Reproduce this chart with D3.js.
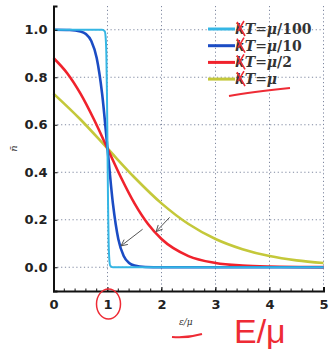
<!DOCTYPE html>
<html>
<head>
<meta charset="utf-8">
<script src="https://cdn.jsdelivr.net/npm/d3@7"></script>
<style>
  body { margin: 0; background: #fff; }
  svg { display: block; }
</style>
</head>
<body>
<div id="chart"></div>
<script>
// Occupation curves (x = eps/mu, y = n-bar)
const xHundred = [0, 0.9, 0.95, 0.97, 0.98, 0.99, 1.0, 1.01, 1.02, 1.03, 1.05, 1.1, 5];
const nHundred = [1, 1, 0.993, 0.953, 0.881, 0.731, 0.5, 0.269, 0.119, 0.047, 0.007, 0, 0];

const xTenth = [0, 0.3, 0.5, 0.6, 0.7, 0.8, 0.9, 1.0, 1.1, 1.2, 1.3, 1.4, 1.5, 1.7, 2, 5];
const nTenth = [1, 0.999, 0.993, 0.982, 0.953, 0.881, 0.731, 0.5, 0.269, 0.119, 0.047, 0.018, 0.007, 0.001, 0, 0];

const xHalf = [0, 0.25, 0.5, 0.75, 1, 1.25, 1.5, 1.75, 2, 2.5, 3, 3.5, 4, 5];
const nHalf = [0.881, 0.818, 0.731, 0.622, 0.5, 0.378, 0.269, 0.182, 0.119, 0.047, 0.018, 0.007, 0.003, 0.0005];

const xOne = [0, 0.5, 1, 1.5, 2, 2.5, 3, 3.5, 4, 4.5, 5];
const nOne = [0.731, 0.622, 0.5, 0.378, 0.269, 0.182, 0.119, 0.076, 0.047, 0.029, 0.018];

const seriesNames = ["\u03bc/100", "\u03bc/10", "\u03bc/2", "\u03bc"];
const seriesColors = ["#35b6e4", "#1b4cc4", "#f0222c", "#c4c83a"];
const xTicks = [0, 1, 2, 3, 4, 5];
const yTicks = [0.0, 0.2, 0.4, 0.6, 0.8, 1.0];

const W = 329, H = 352;

const svg = d3.select("#chart").append("svg")
    .attr("width", W)
    .attr("height", H);

// scales
const x = d3.scaleLinear().domain([0, 5]).range([53.5, 323.5]);
const y = d3.scaleLinear().domain([-0.1, 1.1]).range([291, 6]);

// --- grid (dotted) ---
const grid = svg.append("g").attr("stroke", "#7f88a0").attr("stroke-width", 1)
    .attr("stroke-dasharray", "1.2,2.6");
grid.selectAll(".gx").data(xTicks.slice(1)).join("line")
    .attr("x1", d => x(d)).attr("x2", d => x(d))
    .attr("y1", y(1.1)).attr("y2", y(-0.1));
grid.selectAll(".gy").data(yTicks).join("line")
    .attr("x1", x(0)).attr("x2", x(5))
    .attr("y1", d => y(d)).attr("y2", d => y(d));

// --- curves ---
const series = [
    xHundred.map((v, i) => [v, nHundred[i]]),
    xTenth.map((v, i) => [v, nTenth[i]]),
    xHalf.map((v, i) => [v, nHalf[i]]),
    xOne.map((v, i) => [v, nOne[i]])
];
const line = d3.line()
    .x(d => x(d[0]))
    .y(d => y(d[1]))
    .curve(d3.curveMonotoneX);

// draw the wide ones first so the step stays on top like the figure
[3, 2, 1, 0].forEach(i => {
    svg.append("path")
        .attr("d", line(series[i]))
        .attr("fill", "none")
        .attr("stroke", seriesColors[i])
        .attr("stroke-width", i === 0 ? 2 : 2.6)
        .attr("stroke-linejoin", "round");
});

// --- axes ---
const ax = svg.append("g").attr("transform", `translate(0,${y(-0.1)})`);
ax.call(d3.axisBottom(x).tickValues(xTicks).tickSize(-4).tickPadding(9).tickFormat(d3.format("d")));
ax.select(".domain").attr("stroke", "#111").attr("stroke-width", 2);
ax.selectAll("text").attr("font-family", "DejaVu Sans").attr("font-size", 13)
    .attr("font-weight", "bold").attr("fill", "#222");
// minor ticks
svg.append("g").selectAll("line").data(d3.range(0.2, 5, 0.2)).join("line")
    .attr("x1", d => x(d)).attr("x2", d => x(d))
    .attr("y1", y(-0.1)).attr("y2", y(-0.1) - 2.5)
    .attr("stroke", "#111").attr("stroke-width", 1);

const ay = svg.append("g").attr("transform", `translate(${x(0)},0)`);
ay.call(d3.axisLeft(y).tickValues(yTicks).tickSize(-4).tickPadding(6).tickFormat(d3.format(".1f")));
ay.select(".domain").attr("stroke", "#111").attr("stroke-width", 2);
ay.selectAll("text").attr("font-family", "DejaVu Sans").attr("font-size", 13)
    .attr("font-weight", "bold").attr("fill", "#222");
ax.selectAll("line").attr("stroke", "#111");
ay.selectAll("line").attr("stroke", "#111");

// axis labels
svg.append("text")
    .attr("transform", `translate(17,${y(0.5)}) rotate(-90)`)
    .attr("text-anchor", "middle")
    .attr("font-family", "DejaVu Serif").attr("font-style", "italic").attr("font-size", 10)
    .attr("fill", "#333")
    .text("n\u0304");
svg.append("text")
    .attr("x", x(2.45)).attr("y", 325)
    .attr("text-anchor", "middle")
    .attr("font-family", "DejaVu Serif").attr("font-style", "italic").attr("font-size", 9)
    .attr("fill", "#333")
    .text("\u03b5/\u03bc");

// --- legend ---
const leg = svg.append("g").attr("transform", "translate(208,29)");
const rows = leg.selectAll("g").data(seriesNames).join("g")
    .attr("transform", (d, i) => `translate(0,${i * 16.7})`);
rows.append("line")
    .attr("x1", 0).attr("x2", 27)
    .attr("stroke", (d, i) => seriesColors[i])
    .attr("stroke-width", 3);
const lt = rows.append("text")
    .attr("x", 27).attr("y", 5)
    .attr("font-family", "DejaVu Serif").attr("font-size", 14)
    .attr("font-weight", "bold")
    .attr("fill", "#333");
lt.append("tspan").attr("font-style", "italic").text("kT");
lt.append("tspan").attr("font-weight", "normal").text("=");
lt.append("tspan").attr("font-style", "italic").text(d => d.replace(/\/.*/, ""));
lt.append("tspan").text(d => d.includes("/") ? d.slice(d.indexOf("/")) : "");

// --- handwritten red marks ---
const red = "#ee2b35";
rows.append("path")
    .attr("d", "M29,-7 L37,7 M36,-8 L30,2")
    .attr("stroke", red).attr("stroke-width", 1.6).attr("fill", "none");
svg.append("path")
    .attr("d", `M229,96 C245,93 270,90 290,88`)
    .attr("stroke", red).attr("stroke-width", 2).attr("fill", "none");
svg.append("ellipse")
    .attr("cx", x(1) + 1).attr("cy", 304)
    .attr("rx", 12).attr("ry", 15)
    .attr("stroke", red).attr("stroke-width", 1.5).attr("fill", "none");
svg.append("path")
    .attr("d", `M172,337 C182,338 195,336 202,334`)
    .attr("stroke", red).attr("stroke-width", 2).attr("fill", "none");
svg.append("text")
    .attr("x", 234).attr("y", 343)
    .attr("font-family", "Liberation Sans").attr("font-size", 34)
    .attr("fill", red)
    .text("E/\u03bc");

// --- gray arrows pointing at the curves ---
const arrows = [[1.65, 0.16, 1.25, 0.09], [2.15, 0.21, 1.9, 0.15]];
svg.append("g").selectAll("g").data(arrows).join("g").each(function(a) {
    const g = d3.select(this);
    const x1 = x(a[0]), y1 = y(a[1]), x2 = x(a[2]), y2 = y(a[3]);
    const ang = Math.atan2(y2 - y1, x2 - x1);
    g.append("line").attr("x1", x1).attr("y1", y1).attr("x2", x2).attr("y2", y2)
        .attr("stroke", "#555").attr("stroke-width", 1);
    const hl = 7;
    [0.45, -0.45].forEach(o => {
        g.append("line").attr("x1", x2).attr("y1", y2)
            .attr("x2", x2 - hl * Math.cos(ang + o)).attr("y2", y2 - hl * Math.sin(ang + o))
            .attr("stroke", "#555").attr("stroke-width", 1);
    });
});
</script>
</body>
</html>
